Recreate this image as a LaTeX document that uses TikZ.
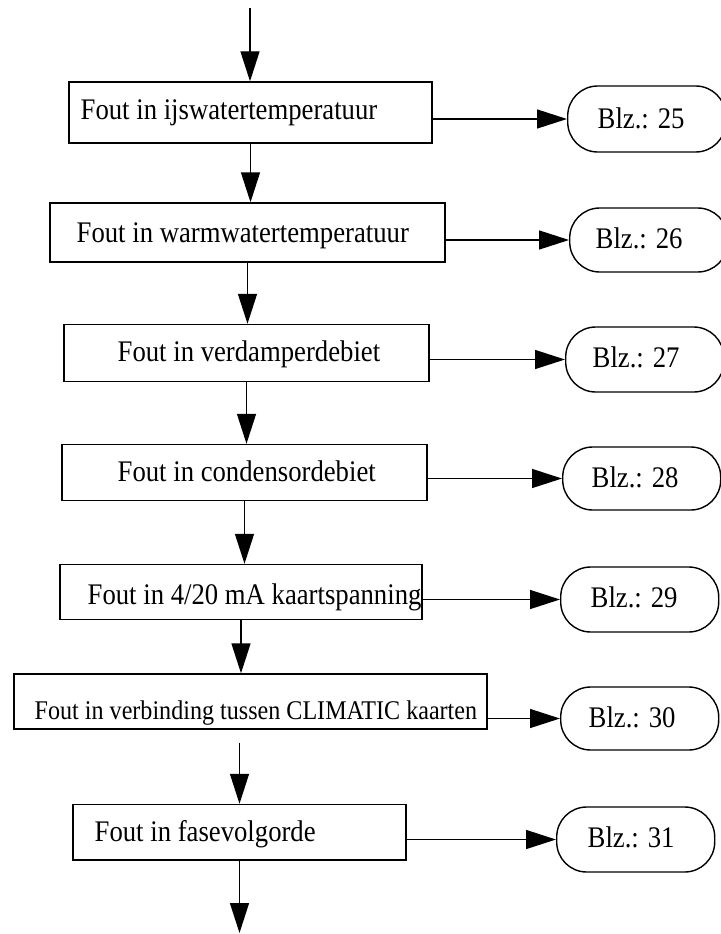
\documentclass[tikz,border=0pt]{standalone}
\usepackage{fontspec}
\usepackage{graphicx}
\setmainfont{Liberation Serif}
\usetikzlibrary{arrows.meta}
% text set a little taller than its natural shape
\newcommand{\tallfont}[1]{\scalebox{1}[1.12]{#1}}
\begin{document}
\begin{tikzpicture}[x=1pt,y=-1pt,
  line width=1.4pt,
  stepbox/.style={draw, rectangle, inner sep=0pt},
  pagebox/.style={draw, rectangle, rounded corners=30pt, inner sep=0pt,
    minimum width=158pt},
  lbl/.style={anchor=base west, inner sep=0pt, font=\fontsize{26.7}{32}\selectfont},
  lblsmall/.style={lbl, font=\fontsize{24.1}{29}\selectfont},
  arr/.style={-{Triangle[length=30pt,width=19pt]}, line width=1.4pt}]
\useasboundingbox (0,0) rectangle (720,934);

% fault boxes: centre, width, height
\node[stepbox, minimum width=363pt, minimum height=61pt] (b1) at (250.5,112.5) {};
\node[stepbox, minimum width=395pt, minimum height=59pt] (b2) at (247.5,232.5) {};
\node[stepbox, minimum width=365pt, minimum height=57pt] (b3) at (246.5,353) {};
\node[stepbox, minimum width=365pt, minimum height=56pt] (b4) at (244.5,472.5) {};
\node[stepbox, minimum width=362pt, minimum height=55pt] (b5) at (241,592) {};
\node[stepbox, minimum width=473pt, minimum height=55pt] (b6) at (250.5,701.5) {};
\node[stepbox, minimum width=333pt, minimum height=55.5pt] (b7) at (239.5,832.2) {};

\node[lbl] (t1) at (80,119.5) {\tallfont{Fout in ijswatertemperatuur}};
\node[lbl] (t2) at (76,242) {\tallfont{Fout in warmwatertemperatuur}};
\node[lbl] (t3) at (117,361) {\tallfont{Fout in verdamperdebiet}};
\node[lbl] (t4) at (117,481) {\tallfont{Fout in condensordebiet}};
\node[lbl] (t5) at (87,604) {\tallfont{Fout in 4/20 mA kaartspanning}};
\node[lblsmall] (t6) at (34,719) {\tallfont{Fout in verbinding tussen CLIMATIC kaarten}};
\node[lbl] (t7) at (94,841) {\tallfont{Fout in fasevolgorde}};

% page references
\node[pagebox, minimum height=66pt, anchor=west] (p1) at (567,119) {};
\node[pagebox, minimum height=64pt, anchor=west] (p2) at (569,240) {};
\node[pagebox, minimum height=65pt, anchor=west] (p3) at (565,359.5) {};
\node[pagebox, minimum height=63pt, anchor=west] (p4) at (562,478.5) {};
\node[pagebox, minimum height=65pt, anchor=west] (p5) at (560,599.5) {};
\node[pagebox, minimum height=63pt, anchor=west] (p6) at (560,718.5) {};
\node[pagebox, minimum height=65pt, anchor=west] (p7) at (556,839.5) {};

\node[lbl] (q1) at (597,128) {\tallfont{Blz.: 25}};
\node[lbl] (q2) at (595,248) {\tallfont{Blz.: 26}};
\node[lbl] (q3) at (592,367) {\tallfont{Blz.: 27}};
\node[lbl] (q4) at (591,487) {\tallfont{Blz.: 28}};
\node[lbl] (q5) at (590,607) {\tallfont{Blz.: 29}};
\node[lbl] (q6) at (588,727) {\tallfont{Blz.: 30}};
\node[lbl] (q7) at (587,847) {\tallfont{Blz.: 31}};

% main flow
\coordinate (in) at (250,8);
\coordinate (out) at (239.5,933);
\draw[arr] (in) -- (b1.north -| in);
\draw[arr] (b1.south) -- (b1.south |- b2.north);
\draw[arr] (b2.south) -- (b2.south |- b3.north);
\draw[arr] (b3.south) -- (b3.south |- b4.north);
\draw[arr] (b4.south) -- (b4.south |- b5.north);
\draw[arr] (b5.south) -- (b5.south |- b6.north);
\draw[arr] ([yshift=-13pt]b6.south -| b7.north) -- (b7.north);
\draw[arr] (b7.south) -- (out);

% branches to the page references
\draw[arr] (p1.west -| b1.east) -- (p1.west);
\draw[arr] (p2.west -| b2.east) -- (p2.west);
\draw[arr] (p3.west -| b3.east) -- (p3.west);
\draw[arr] (p4.west -| b4.east) -- (p4.west);
\draw[arr] (p5.west -| b5.east) -- (p5.west);
\draw[arr] (p6.west -| b6.east) -- (p6.west);
\draw[arr] (p7.west -| b7.east) -- (p7.west);
\end{tikzpicture}
\end{document}
